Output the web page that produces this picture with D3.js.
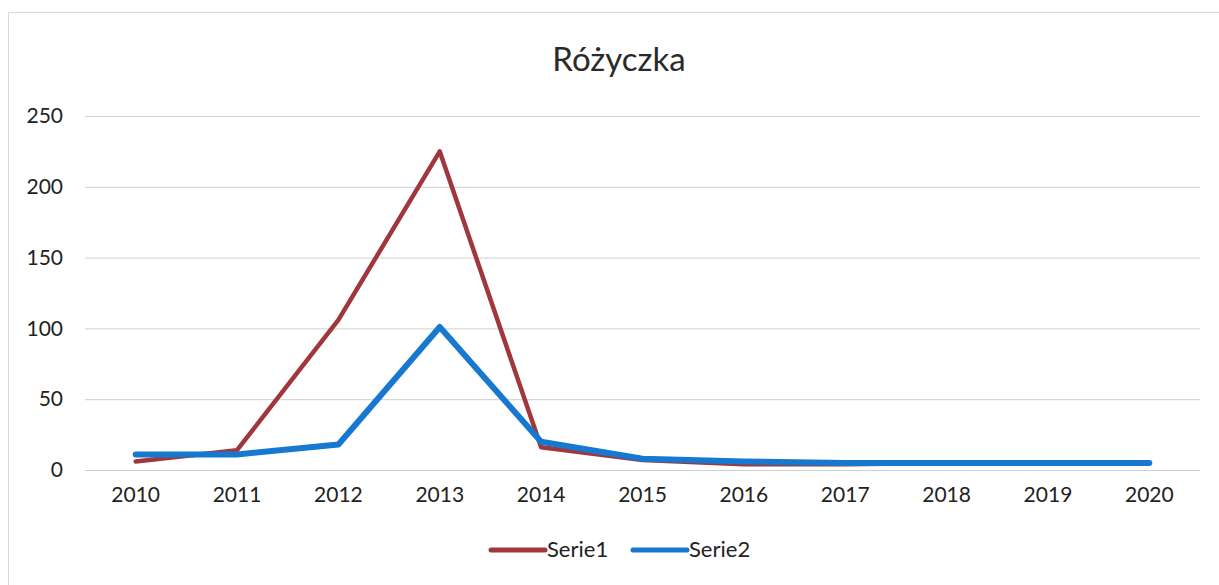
<!DOCTYPE html>
<html><head><meta charset="utf-8">
<script src="https://cdn.jsdelivr.net/npm/d3@7"></script>
<style>body{margin:0;background:#fff}svg{display:block}</style>
</head><body><svg id="c" width="1219" height="585"></svg>
<script>
const years = ["2010","2011","2012","2013","2014","2015","2016","2017","2018","2019","2020"];
const serie1 = [6, 14, 106, 225, 16, 7, 4, 4, 5, 5, 5];
const serie2 = [11, 11, 18, 101, 20, 8, 6, 5, 5, 5, 5];
const yTicks = [0, 50, 100, 150, 200, 250];
const seriesNames = ["Serie1", "Serie2"];
const colors = ["#a0373c", "#1679cf"];

const svg = d3.select("#c");
const font = "Lato, 'Open Sans', sans-serif";
svg.append("rect").attr("x",8.5).attr("y",12.5).attr("width",1220).attr("height",580)
  .attr("fill","#fff").attr("stroke","#d9d9d9");

const x = d3.scaleBand().domain(years).range([85, 1200]);
const y = d3.scaleLinear().domain([0, 250]).range([470, 116]);

svg.append("text").attr("x", 619).attr("y", 71).attr("text-anchor","middle")
  .attr("font-family", font).attr("font-size", 33).attr("fill","#2a2a2a").text("Różyczka");

const gy = svg.append("g").attr("transform","translate(85,0)")
  .call(d3.axisLeft(y).tickValues(yTicks).tickSize(-1115).tickPadding(22));
gy.select(".domain").remove();
gy.selectAll(".tick line").attr("stroke","#cfcfcf").attr("stroke-width",1);
gy.selectAll(".tick text").attr("font-family", font).attr("font-size", 21).attr("fill","#222");

const gx = svg.append("g").attr("transform","translate(0,470)")
  .call(d3.axisBottom(x).tickSize(0).tickPadding(17));
gx.select(".domain").remove();
gx.selectAll(".tick text").attr("font-family", font).attr("font-size", 21).attr("fill","#222");

const line = d3.line().x((d,i)=>x(years[i]) + x.bandwidth()/2).y(d=>y(d));
[serie1, serie2].forEach((s, k) => {
  svg.append("path").datum(s).attr("d", line).attr("fill","none")
    .attr("stroke", colors[k]).attr("stroke-width", k===0?4.5:6)
    .attr("stroke-linejoin","round").attr("stroke-linecap","round");
});

const leg = svg.append("g");
const legX = [491, 633];
seriesNames.forEach((n, k) => {
  leg.append("line").attr("x1", legX[k]).attr("x2", legX[k]+54).attr("y1", 550).attr("y2", 550)
    .attr("stroke", colors[k]).attr("stroke-width", 5).attr("stroke-linecap","round");
  leg.append("text").attr("x", legX[k]+56).attr("y", 557).attr("font-family", font)
    .attr("font-size", 22).attr("fill","#222").text(n);
});
</script></body></html>
